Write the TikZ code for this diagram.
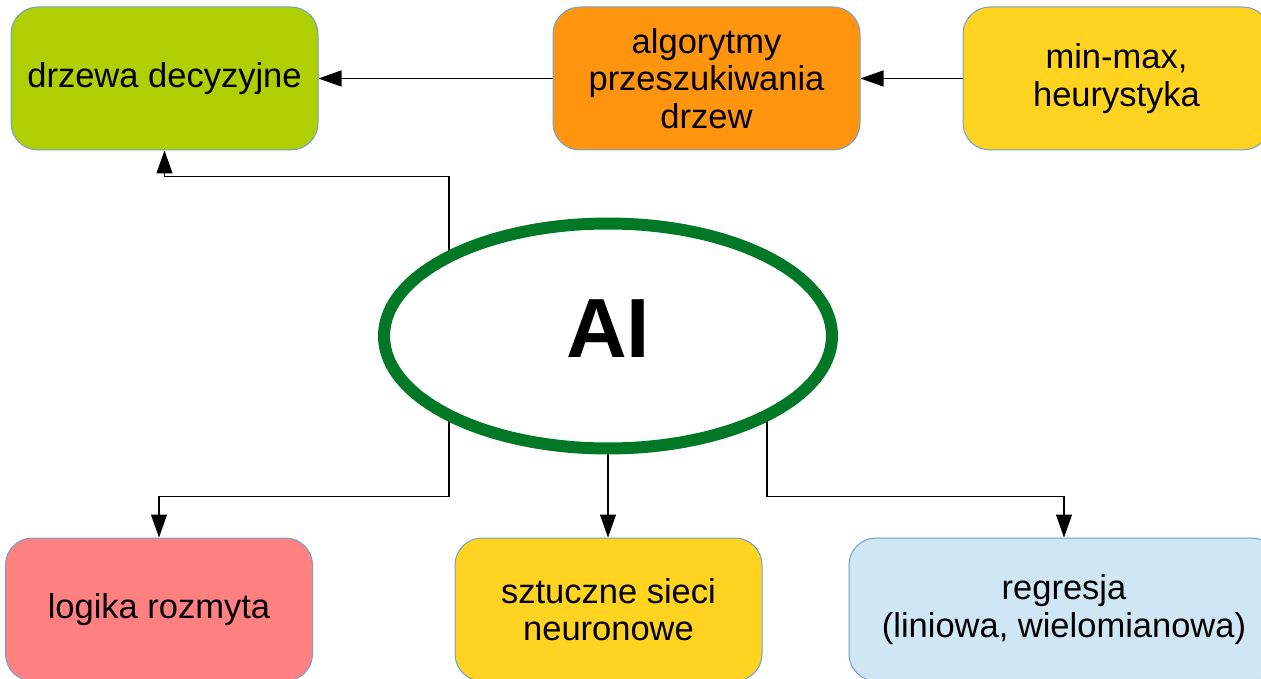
\documentclass[tikz,border=0pt]{standalone}
\usepackage{fontspec}
\setmainfont{Liberation Sans}
\usetikzlibrary{arrows.meta,shapes.geometric,backgrounds}
\definecolor{bordc}{RGB}{114,159,207}
\definecolor{cgreen}{RGB}{176,207,0}
\definecolor{corange}{RGB}{255,149,14}
\definecolor{cyellow}{RGB}{255,211,32}
\definecolor{cpink}{RGB}{255,128,128}
\definecolor{cblue}{RGB}{207,231,245}
\definecolor{cellipse}{RGB}{0,120,38}
\begin{document}
\begin{tikzpicture}[x=1pt,y=-1pt,
  box/.style={rectangle, rounded corners=27pt, draw=bordc, line width=1pt,
    minimum width=307pt, minimum height=143pt, align=center, inner sep=0pt,
    font=\fontsize{34.5}{37.5}\selectfont},
  arr/.style={-{Triangle[length=23pt,width=16pt]}, line width=1.2pt, black},
  aiell/.style={ellipse, draw=cellipse, fill=white, line width=12pt,
    minimum width=448pt, minimum height=225pt, inner sep=0pt,
    font=\fontsize{84}{90}\selectfont\bfseries, text depth=14pt}]
\useasboundingbox (0,0) rectangle (1261,679);
\clip (0,0) rectangle (1261,679);

\node[box, fill=cgreen] (drz) at (164.5,78.5) {drzewa decyzyjne};
\node[box, fill=corange] (alg) at (706.5,78.5) {algorytmy\\przeszukiwania\\drzew};
\node[box, fill=cyellow] (mm) at (1116.5,78.5) {min-max,\\heurystyka};
\node[box, fill=cpink] (log) at (159,609.5) {logika rozmyta};
\node[box, fill=cyellow] (szt) at (608.5,609.5) {sztuczne sieci\\neuronowe};
\node[box, fill=cblue, minimum width=430pt] (reg) at (1064,609.5) {regresja\\(liniowa, wielomianowa)};

\node[aiell] (ai) at (608,336) {AI};

\begin{scope}[on background layer]
\fill[white] (0,0) rectangle (1261,679);
\draw[arr] (alg.west) -- (drz.east);
\draw[arr] (mm.west) -- (alg.east);
\draw[arr] ([xshift=-159pt]ai.center) |- ([yshift=-26pt]drz.south) -- (drz.south);
\draw[arr] ([xshift=-159pt]ai.center) |- ([yshift=41pt]log.north) -- (log.north);
\draw[arr] (ai.center) -- (ai.center |- szt.north);
\draw[arr] ([xshift=159pt]ai.center) |- ([yshift=41pt]reg.north) -- (reg.north);
\end{scope}
\end{tikzpicture}
\end{document}
